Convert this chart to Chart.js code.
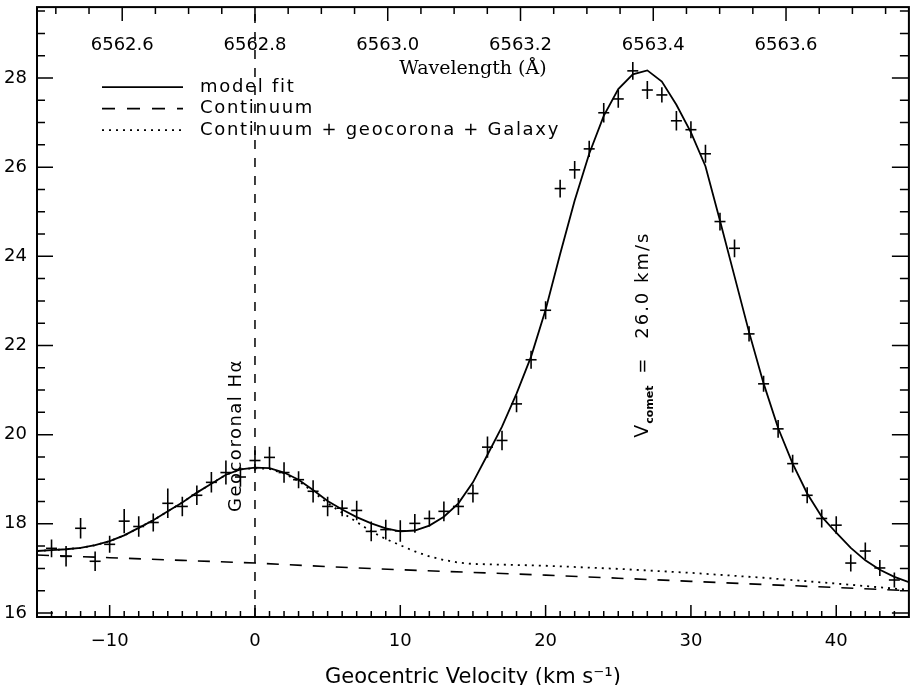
<!DOCTYPE html>
<html>
<head>
<meta charset="utf-8">
<script src="https://cdn.jsdelivr.net/npm/chart.js@4.4.1/dist/chart.umd.min.js"></script>
<style>
  html, body { margin: 0; padding: 0; background: #fff; }
  #wrap { width: 916px; height: 685px; }
</style>
</head>
<body>
<div id="wrap"><canvas id="spectrum" width="916" height="685"></canvas></div>
<script>
/* measured points (km/s, flux) with 1-sigma error */
var VELOCITY = [-14, -13, -12, -11, -10, -9, -8, -7, -6, -5, -4, -3, -2, -1, 0,
  1, 2, 3, 4, 5, 6, 7, 8, 9, 10, 11, 12, 13, 14, 15, 16, 17, 18, 19, 20,
  21, 22, 23, 24, 25, 26, 27, 28, 29, 30, 31, 32, 33, 34, 35, 36, 37, 38, 39, 40,
  41, 42, 43, 44];
var FLUX = [17.45, 17.27, 17.90, 17.16, 17.54, 18.06, 17.94, 18.03, 18.46, 18.39, 18.64, 18.93, 19.15, 19.05, 19.42,
  19.49, 19.15, 18.99, 18.73, 18.39, 18.35, 18.30, 17.83, 17.87, 17.84, 18.01, 18.12, 18.28, 18.39, 18.68, 19.72, 19.87, 20.69, 21.68, 22.79,
  25.52, 25.94, 26.41, 27.22, 27.53, 28.16, 27.73, 27.62, 27.04, 26.84, 26.30, 24.78, 24.18, 22.26, 21.14, 20.13, 19.35, 18.64, 18.12, 17.97,
  17.12, 17.39, 17.01, 16.74];
var FLUX_ERR = [0.20, 0.23, 0.23, 0.22, 0.19, 0.27, 0.23, 0.20, 0.33, 0.22, 0.22, 0.23, 0.27, 0.22, 0.23,
  0.24, 0.23, 0.19, 0.25, 0.22, 0.18, 0.22, 0.22, 0.22, 0.24, 0.21, 0.18, 0.22, 0.19, 0.20, 0.24, 0.22, 0.19, 0.20, 0.20,
  0.20, 0.20, 0.18, 0.22, 0.20, 0.20, 0.20, 0.17, 0.22, 0.19, 0.20, 0.20, 0.20, 0.17, 0.18, 0.20, 0.20, 0.18, 0.20, 0.20,
  0.19, 0.19, 0.18, 0.17];

/* model fit */
var MODEL_VEL = [-15, -14, -13, -12, -11, -10, -9, -8, -7, -6, -5, -4, -3, -2, -1, 0,
  1, 2, 3, 4, 5, 6, 7, 8, 9, 10, 11, 12, 13, 14, 15, 16, 17, 18, 19, 20,
  21, 22, 23, 24, 25, 26, 27, 28, 29, 30, 31, 32, 33, 34, 35, 36, 37, 38, 39, 40,
  41, 42, 43, 44, 45];
var MODEL_FLUX = [17.39, 17.41, 17.43, 17.46, 17.52, 17.61, 17.74, 17.91, 18.08, 18.28, 18.48, 18.70, 18.90, 19.10, 19.22, 19.26,
  19.25, 19.15, 18.99, 18.76, 18.51, 18.32, 18.15, 18.01, 17.90, 17.83, 17.85, 17.96, 18.16, 18.46, 18.93, 19.55, 20.18, 20.92, 21.75, 22.80,
  24.05, 25.25, 26.30, 27.15, 27.75, 28.08, 28.17, 27.92, 27.40, 26.78, 26.02, 24.80, 23.55, 22.30, 21.15, 20.15, 19.35, 18.68, 18.16, 17.80,
  17.46, 17.18, 16.97, 16.81, 16.69];

/* continuum */
var CONT_VEL = [-15, -10, -5, 0, 5, 10, 15, 20, 25, 30, 35, 40, 45];
var CONT_FLUX = [17.30, 17.24, 17.18, 17.12, 17.04, 16.97, 16.91, 16.85, 16.78, 16.71, 16.64, 16.57, 16.50];

/* continuum + geocorona + Galaxy */
var BKG_VEL = [-15, -14, -13, -12, -11, -10, -9, -8, -7, -6, -5, -4, -3, -2, -1, 0,
  1, 2, 3, 4, 5, 6, 7, 8, 9, 10, 11, 12, 13, 14, 15, 17.5, 20, 25, 30, 35, 40, 45];
var BKG_FLUX = [17.39, 17.41, 17.43, 17.46, 17.52, 17.61, 17.74, 17.91, 18.08, 18.28, 18.48, 18.70, 18.90, 19.10, 19.22, 19.25,
  19.23, 19.13, 18.96, 18.72, 18.46, 18.25, 18.04, 17.83, 17.66, 17.52, 17.38, 17.27, 17.19, 17.13, 17.10, 17.08, 17.06, 16.99, 16.90, 16.79, 16.66, 16.52];

/* axes */
var VEL_TICKS = [-10, 0, 10, 20, 30, 40];
var FLUX_TICKS = [16, 18, 20, 22, 24, 26, 28];
var WAVE_TICKS = [6562.6, 6562.8, 6563.0, 6563.2, 6563.4, 6563.6];
var LEGEND_LABELS = ['model fit', 'Continuum', 'Continuum + geocorona + Galaxy'];

var VEL_MIN = -15, VEL_MAX = 45;
var FLUX_MIN = 15.91, FLUX_MAX = 29.59;
var REST_WAVE = 6562.8, C_KMS = 299792.458;
var GEO_VEL = 0;

var SANS = "'DejaVu Sans', sans-serif";
var SERIF = "'DejaVu Serif', serif";

function pairs(xs, ys) {
  return xs.map(function (x, i) { return { x: x, y: ys[i] }; });
}
function steps(first, last, step) {
  var out = [];
  for (var i = 0; first + i * step <= last + 1e-9; i++) out.push(+(first + i * step).toFixed(4));
  return out;
}
function isMajor(v, list) {
  return list.some(function (m) { return Math.abs(m - v) < 1e-6; });
}
function fixBox(size) {
  return function (scale) {
    if (scale.isHorizontal()) scale.height = size; else scale.width = size;
    scale.paddingTop = scale.paddingBottom = scale.paddingLeft = scale.paddingRight = 0;
  };
}

/* inward ticks on all four sides, error bars */
var frameTicks = {
  id: 'frameTicks',
  afterDatasetsDraw: function (chart) {
    var ctx = chart.ctx, a = chart.chartArea, s = chart.scales;
    ctx.save();
    ctx.strokeStyle = '#000';

    /* vertical error bars; horizontal bar is the point style */
    ctx.lineWidth = 1.6;
    ctx.beginPath();
    VELOCITY.forEach(function (v, i) {
      var px = s.x.getPixelForValue(v);
      ctx.moveTo(px, s.y.getPixelForValue(FLUX[i] - FLUX_ERR[i]));
      ctx.lineTo(px, s.y.getPixelForValue(FLUX[i] + FLUX_ERR[i]));
    });
    ctx.stroke();

    ctx.lineWidth = 1.5;
    ctx.beginPath();
    steps(VEL_MIN + 1, VEL_MAX - 1, 1).forEach(function (v) {
      var px = s.x.getPixelForValue(v);
      var len = isMajor(v, VEL_TICKS) ? 12 : 6;
      ctx.moveTo(px, a.bottom); ctx.lineTo(px, a.bottom - len);
    });
    steps(6562.5, 6563.75, 0.05).forEach(function (w) {
      var px = s.x2.getPixelForValue(w);
      if (px <= a.left + 1 || px >= a.right - 1) return;
      var len = isMajor(w, WAVE_TICKS) ? 14 : 7;
      ctx.moveTo(px, a.top); ctx.lineTo(px, a.top + len);
    });
    steps(16, 29.5, 0.5).forEach(function (f) {
      var py = s.y.getPixelForValue(f);
      var len = isMajor(f, FLUX_TICKS) ? 16 : 8;
      ctx.moveTo(a.left, py); ctx.lineTo(a.left + len, py);
      ctx.moveTo(a.right, py); ctx.lineTo(a.right - len - 1, py);
    });
    ctx.stroke();

    ctx.lineWidth = 2;
    ctx.strokeRect(a.left, a.top, a.right - a.left, a.bottom - a.top);
    ctx.restore();
  },
  afterDraw: function (chart) {
    var ctx = chart.ctx, a = chart.chartArea, s = chart.scales;
    ctx.save();
    ctx.fillStyle = '#000';
    ctx.strokeStyle = '#000';

    /* wavelength tick labels, inside the top of the frame */
    ctx.font = '18px ' + SANS;
    ctx.textAlign = 'center';
    ctx.textBaseline = 'middle';
    WAVE_TICKS.forEach(function (w) {
      ctx.fillText(w.toFixed(1), s.x2.getPixelForValue(w), a.top + 38);
    });

    /* legend */
    var styles = [
      { dash: [], width: 1.8 },
      { dash: [13, 12], width: 1.6 },
      { dash: [2, 5], width: 1.8 }
    ];
    ctx.textAlign = 'left';
    ctx.font = '18px ' + SANS;
    ctx.letterSpacing = '1.7px';
    LEGEND_LABELS.forEach(function (label, i) {
      var y = a.top + 80 + i * 21.5;
      ctx.setLineDash(styles[i].dash);
      ctx.lineWidth = styles[i].width;
      ctx.beginPath();
      ctx.moveTo(a.left + 65, y); ctx.lineTo(a.left + 146, y);
      ctx.stroke();
      ctx.fillText(label, a.left + 163, y);
    });
    ctx.setLineDash([]);

    /* Geocoronal H-alpha label */
    ctx.save();
    ctx.translate(s.x.getPixelForValue(-1.3), s.y.getPixelForValue(19.98));
    ctx.rotate(-Math.PI / 2);
    ctx.font = '18px ' + SANS;
    ctx.letterSpacing = '1.5px';
    ctx.textAlign = 'center';
    ctx.fillText('Geocoronal H\u03b1', 0, 0);
    ctx.restore();

    /* comet velocity label */
    ctx.save();
    ctx.translate(s.x.getPixelForValue(27.05), s.y.getPixelForValue(19.93));
    ctx.rotate(-Math.PI / 2);
    ctx.textBaseline = 'alphabetic';
    ctx.textAlign = 'left';
    ctx.font = '19px ' + SANS;
    ctx.letterSpacing = '0px';
    ctx.fillText('V', 0, 0);
    ctx.font = 'bold 11px ' + SANS;
    ctx.fillText('comet', 14, 5);
    ctx.font = '18px ' + SANS;
    ctx.fillText('=', 64, 0);
    ctx.letterSpacing = '2px';
    ctx.fillText('26.0 km/s', 99, 0);
    ctx.restore();

    ctx.restore();
  }
};

var ctx = document.getElementById('spectrum').getContext('2d');
new Chart(ctx, {
  data: {
    datasets: [
      {
        type: 'line',
        label: 'Continuum + geocorona + Galaxy',
        data: pairs(BKG_VEL, BKG_FLUX),
        borderColor: '#000',
        borderWidth: 1.8,
        borderDash: [2, 5],
        pointRadius: 0,
        tension: 0,
        fill: false,
        order: 4
      },
      {
        type: 'line',
        label: 'Continuum',
        data: pairs(CONT_VEL, CONT_FLUX),
        borderColor: '#000',
        borderWidth: 1.6,
        borderDash: [12, 11],
        pointRadius: 0,
        tension: 0,
        fill: false,
        order: 3
      },
      {
        type: 'line',
        label: 'Geocoronal rest velocity',
        data: [{ x: GEO_VEL, y: FLUX_MIN }, { x: GEO_VEL, y: FLUX_MAX }],
        borderColor: '#000',
        borderWidth: 1.5,
        borderDash: [9, 9],
        pointRadius: 0,
        fill: false,
        order: 5
      },
      {
        type: 'line',
        label: 'model fit',
        data: pairs(MODEL_VEL, MODEL_FLUX),
        borderColor: '#000',
        borderWidth: 1.8,
        pointRadius: 0,
        tension: 0,
        fill: false,
        order: 1
      },
      {
        type: 'scatter',
        label: 'data',
        data: pairs(VELOCITY, FLUX),
        pointStyle: 'line',
        pointRadius: 5.5,
        pointBorderWidth: 1.6,
        pointBorderColor: '#000',
        pointBackgroundColor: '#000',
        order: 0
      }
    ]
  },
  options: {
    responsive: false,
    devicePixelRatio: 1,
    animation: false,
    layout: { padding: { top: 5, right: 3, left: 0, bottom: 0 } },
    plugins: {
      legend: { display: false },
      tooltip: { enabled: false }
    },
    scales: {
      x: {
        type: 'linear',
        position: 'bottom',
        min: VEL_MIN,
        max: VEL_MAX,
        afterFit: fixBox(68),
        afterBuildTicks: function (scale) {
          scale.ticks = VEL_TICKS.map(function (v) { return { value: v }; });
        },
        grid: { display: false, drawTicks: false },
        border: { display: false },
        ticks: {
          color: '#000',
          padding: 14,
          maxRotation: 0,
          autoSkip: false,
          font: { family: SANS, size: 18 },
          callback: function (v) { return String(v).replace('-', '\u2212'); }
        },
        title: {
          display: true,
          text: 'Geocentric Velocity (km s\u207b\u00b9)',
          color: '#000',
          font: { family: SANS, size: 21, lineHeight: 0.75 },
          padding: 0
        }
      },
      x2: {
        type: 'linear',
        axis: 'x',
        position: 'top',
        min: REST_WAVE * (1 + VEL_MIN / C_KMS),
        max: REST_WAVE * (1 + VEL_MAX / C_KMS),
        afterFit: fixBox(0),
        afterBuildTicks: function (scale) {
          scale.ticks = WAVE_TICKS.map(function (w) { return { value: w }; });
        },
        grid: { display: false, drawTicks: false },
        border: { display: false },
        ticks: { display: false },
        title: {
          display: true,
          text: 'Wavelength (\u00c5)',
          color: '#000',
          font: { family: SERIF, size: 19 },
          padding: { top: 51, bottom: 0 }
        }
      },
      y: {
        type: 'linear',
        position: 'left',
        min: FLUX_MIN,
        max: FLUX_MAX,
        afterFit: fixBox(37),
        afterBuildTicks: function (scale) {
          scale.ticks = FLUX_TICKS.map(function (f) { return { value: f }; });
        },
        grid: { display: false, drawTicks: false },
        border: { display: false },
        ticks: {
          color: '#000',
          padding: 10,
          font: { family: SANS, size: 18 }
        }
      }
    }
  },
  plugins: [frameTicks]
});
</script>
</body>
</html>
